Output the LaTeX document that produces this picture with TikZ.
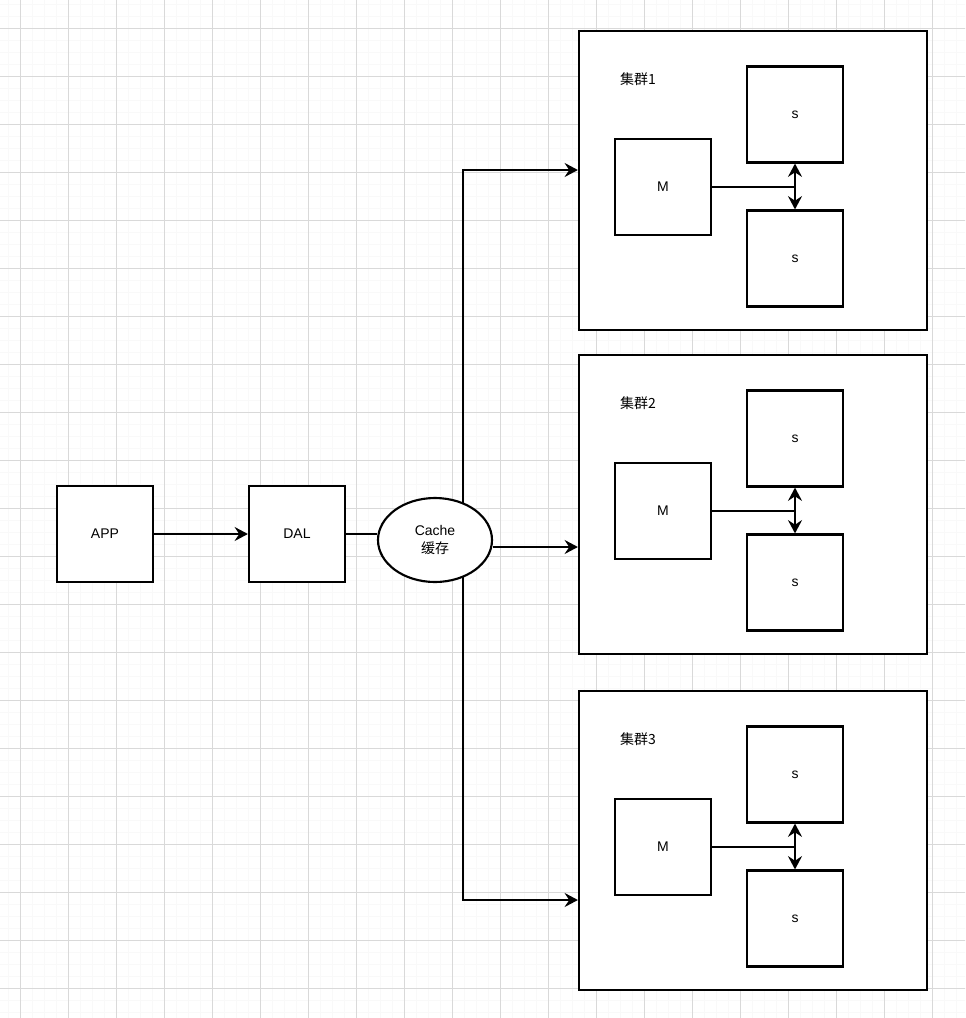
\documentclass[tikz,border=0pt]{standalone}
\usepackage{fontspec}
\setmainfont{Liberation Sans}
\newfontfamily\cjk{Noto Sans CJK SC}
\usepackage{tikz}
\usetikzlibrary{arrows.meta, shapes.geometric}

\tikzset{
  box/.style={draw, line width=1.6pt, fill=white, minimum width=72pt, minimum height=72pt,
    inner sep=0pt, font=\fontsize{10.5}{13}\selectfont},
  clusterbox/.style={draw, line width=1.6pt, fill=white, minimum width=261pt,
    minimum height=224.25pt, inner sep=0pt},
  link/.style={line width=1.6pt},
}

\begin{document}
\begin{tikzpicture}[x=0.75pt, y=-0.75pt, >={Stealth[length=10pt, width=10.5pt, inset=3.5pt]}]
  \useasboundingbox (0,0) rectangle (965,1018);
  % 网格背景
  \fill[white] (0,0) rectangle (965,1018);
  \begin{scope}
    \clip (0,0) rectangle (965,1018);
    \begin{scope}[shift={(20.5,28.3)}]
      \draw[gray!5, line width=0.75pt, step=9pt] (-48,-48) grid (1000,1040);
      \draw[gray!30, line width=0.75pt, step=36pt] (-48,-48) grid (1000,1040);
    \end{scope}
  \end{scope}

  % 三个集群
  \foreach \i/\dy in {1/0, 2/324, 3/660} {
    \begin{scope}[shift={(0,\dy)}]
      \node[clusterbox] (c\i) at (753,180.5) {};
      \node[font=\cjk\fontsize{10.5}{12}\selectfont] (lab\i) at (638,79) {集群\i};
      \node[box] (m\i) at (663,187) {M};
      \node[box] (sa\i) at (795,114.5) {s};
      \node[box] (sb\i) at (795,258.5) {s};
      \draw[link,->] (m\i.east) -| (sa\i.south);
      \draw[link,->] (m\i.east) -| (sb\i.north);
    \end{scope}
  }

  % APP -> DAL -> Cache
  \node[box] (app) at (105,534) {APP};
  \node[box] (dal) at (297,534) {DAL};
  \draw[link,->] (app) -- (dal);

  \coordinate (hub) at (463,540);
  \draw[link,->] (hub) |- (c1.west |- 0,170);
  \draw[link,->] (hub) |- (c3.west |- 0,900);

  \node[box, ellipse, minimum width=85.5pt, minimum height=63pt, align=center] (cache)
    at (435,540) {Cache\\{\cjk 缓存}};
  \draw[link] (dal.east) -- (cache.west |- dal.east);
  \draw[link,->] (cache.east |- 0,547) -- (c2.west |- 0,547);
\end{tikzpicture}
\end{document}
